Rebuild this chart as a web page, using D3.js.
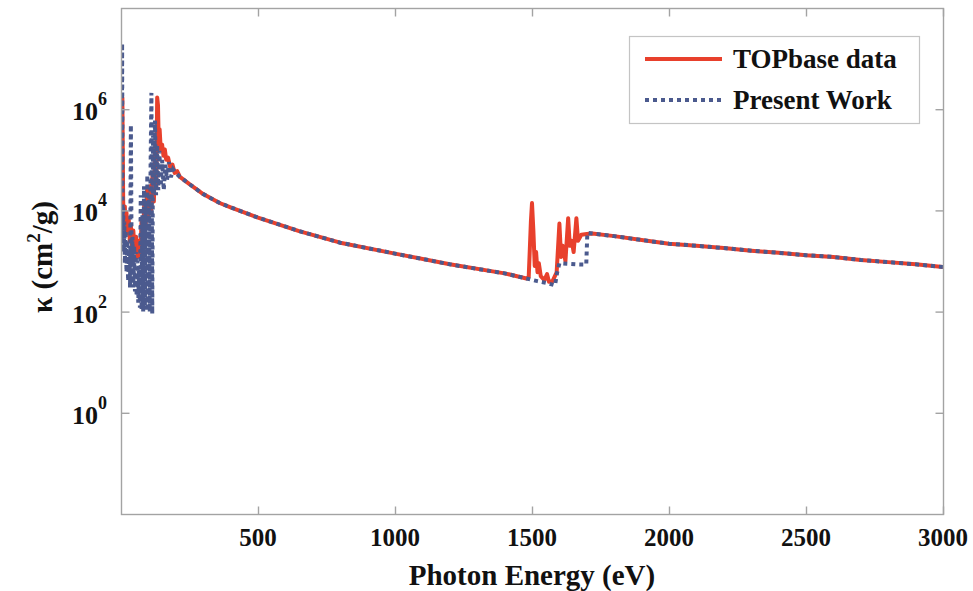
<!DOCTYPE html>
<html><head><meta charset="utf-8">
<script src="https://cdn.jsdelivr.net/npm/d3@7"></script>
<style>body{margin:0;background:#fff}</style>
</head><body><svg id="c" width="973" height="591"></svg>
<script>
// ---- data ----
const xTicks = [500, 1000, 1500, 2000, 2500, 3000];
const yTickExps = [0, 2, 4, 6];
const seriesNames = ["TOPbase data", "Present Work"];

// resonance region (low energy)
const resE_topbase = [3,5,8,11,14,17,20,24,28,32,36,40,45,50,55,60,65,70,75,80,85,90,95,100,105,110,115,120,125,129,132,135,138,141,145,150,155,160,165,172,180,188,196,205];
const resK_topbase = [1.5e4,1.7e6,1.5e4,5.0e3,1.2e4,4.0e3,9.0e3,3.5e3,7.0e3,2.5e3,5.0e3,2.0e3,4.0e3,1.5e3,3.0e3,1.2e3,2.5e3,1.2e3,6.0e3,2.5e3,1.5e4,5.0e3,2.5e4,8.0e3,3.0e4,1.0e4,5.0e4,1.5e4,2.0e5,3.0e4,1.7e6,1.2e6,2.0e5,4.0e5,1.6e5,2.0e5,1.2e5,1.6e5,1.0e5,1.1e5,7.0e4,8.0e4,5.5e4,6.0e4];

const resE_present = [3,4,6,8,10,12,14,17,20,23,26,30,33,36,39,42,45,48,51,54,57,60,63,66,69,72,75,78,81,84,87,90,93,96,99,102,105,108,111,114,117,120,124,128,132,136,140,145,150,156,162,168,175,182,190,200];
const resK_present = [3.0e4,2.0e7,3.0e3,1.2e4,1.5e3,6.0e3,9.0e2,4.0e3,6.0e2,2.5e3,4.0e2,2.0e3,3.0e2,4.9e5,8.0e2,3.0e3,3.0e2,2.0e3,2.5e2,1.5e3,2.0e2,1.0e3,1.5e2,8.0e2,1.2e2,2.0e4,1.1e2,8.0e3,1.0e2,3.0e4,1.1e2,1.5e4,1.0e2,5.0e4,1.2e2,2.0e4,1.0e2,8.0e4,2.1e6,9.0e1,3.0e5,2.0e4,6.0e5,2.0e4,2.0e5,2.5e4,1.5e5,3.0e4,1.0e5,2.5e4,8.0e4,4.0e4,9.0e4,4.5e4,6.5e4,5.5e4];

// smooth continuum (shared)
const contE = [215,250,300,360,400,500,650,800,1000,1200,1400,1480];
const contK = [4.6e4,3.3e4,2.1e4,1.4e4,1.15e4,7.2e3,3.9e3,2.3e3,1.4e3,8.6e2,5.7e2,4.5e2];

// K-edge region
const edgeE_topbase = [1488,1496,1500,1505,1510,1515,1520,1525,1532,1545,1555,1562,1575,1590,1600,1606,1612,1622,1632,1638,1645,1652,1662,1668,1680,1700];
const edgeK_topbase = [4.8e2,6.0e3,1.4e4,4.0e3,8.0e2,1.5e3,6.0e2,9.0e2,5.0e2,4.2e2,5.5e2,3.9e2,4.0e2,6.0e2,5.5e3,1.2e3,2.0e3,1.0e3,7.0e3,2.0e3,2.5e3,1.5e3,7.0e3,2.5e3,3.3e3,3.4e3];
const edgeE_present = [1520,1560,1584,1592,1600,1630,1660,1698,1702];
const edgeK_present = [4.0e2,3.6e2,3.3e2,6.0e2,9.0e2,8.8e2,8.6e2,8.5e2,3.6e3];

// post-edge (shared)
const postE = [1720,1800,1900,2000,2100,2200,2300,2400,2500,2600,2700,2800,2900,3000];
const postK = [3.5e3,3.1e3,2.6e3,2.2e3,2.0e3,1.8e3,1.6e3,1.45e3,1.3e3,1.2e3,1.05e3,9.5e2,8.6e2,7.6e2];

// ---- build series ----
function zip(E, K){ return E.map((e,i)=>({e, k:K[i]})); }
const topbase = [].concat(zip(resE_topbase,resK_topbase), zip(contE,contK), zip(edgeE_topbase,edgeK_topbase), zip(postE,postK));
const present = [].concat(zip(resE_present,resK_present), zip(contE,contK), zip(edgeE_present,edgeK_present), zip(postE,postK));

// ---- layout ----
const L = 121, R = 943, T = 8, B = 514;
const svg = d3.select("#c");
const x = d3.scaleLinear().domain([0, 3000]).range([L, R]);
const y = d3.scaleLog().domain([1e-2, 1e8]).range([B, T]);
const font = "'Liberation Serif','Times New Roman',serif";
const frameCol = "#a3a3a3";
const redCol = "#e8402c", blueCol = "#4b5a8e";

svg.append("clipPath").attr("id","clip").append("rect")
  .attr("x", L).attr("y", T).attr("width", R-L).attr("height", B-T);

const line = d3.line().x(d=>x(d.e)).y(d=>y(d.k));
const g = svg.append("g").attr("clip-path","url(#clip)");
g.append("path").datum(topbase).attr("d", line)
  .attr("fill","none").attr("stroke",redCol).attr("stroke-width",4)
  .attr("stroke-linejoin","round");
g.append("path").datum(present).attr("d", line)
  .attr("fill","none").attr("stroke",blueCol).attr("stroke-width",4)
  .attr("stroke-dasharray","4,4");

// frame
svg.append("rect").attr("x", L+0.5).attr("y", T+0.5).attr("width", R-L).attr("height", B-T)
  .attr("fill","none").attr("stroke", frameCol).attr("stroke-width",1.4);

// axes (ticks inward)
const xAxB = d3.axisBottom(x).tickValues(xTicks).tickSize(-8).tickFormat("");
const xAxT = d3.axisTop(x).tickValues(xTicks).tickSize(-8).tickFormat("");
const yVals = yTickExps.map(p=>Math.pow(10,p));
const yAxL = d3.axisLeft(y).tickValues(yVals).tickSize(-8).tickFormat("");
const yAxR = d3.axisRight(y).tickValues(yVals).tickSize(-8).tickFormat("");
function styleAx(sel){ sel.select(".domain").remove(); sel.selectAll("line").attr("stroke",frameCol).attr("stroke-width",1.4); }
svg.append("g").attr("transform",`translate(0,${B+0.5})`).call(xAxB).call(styleAx);
svg.append("g").attr("transform",`translate(0,${T+0.5})`).call(xAxT).call(styleAx);
svg.append("g").attr("transform",`translate(${L+0.5},0)`).call(yAxL).call(styleAx);
svg.append("g").attr("transform",`translate(${R+0.5},0)`).call(yAxR).call(styleAx);

// x tick labels
svg.append("g").selectAll("text").data(xTicks).join("text")
  .attr("x", d=>x(d)).attr("y", 546)
  .attr("text-anchor","middle").attr("font-family",font).attr("font-weight","bold")
  .attr("font-size",25).attr("fill","#111").text(d=>d);

// y tick labels
const yl = svg.append("g").selectAll("text").data(yTickExps).join("text")
  .attr("x", 107).attr("y", d=>y(Math.pow(10,d))+11)
  .attr("text-anchor","end").attr("font-family",font).attr("font-weight","bold")
  .attr("font-size",26).attr("fill","#111");
yl.append("tspan").text("10");
yl.append("tspan").attr("dy",-15).attr("font-size",18).text(d=>d);

// axis titles
svg.append("text").attr("x",(L+R)/2).attr("y",585).attr("text-anchor","middle")
  .attr("font-family",font).attr("font-weight","bold").attr("font-size",29).attr("fill","#111")
  .text("Photon Energy (eV)");
const yt = svg.append("text").attr("transform","translate(52,257) rotate(-90)")
  .attr("text-anchor","middle").attr("font-family",font).attr("font-weight","bold")
  .attr("font-size",29).attr("fill","#111");
yt.append("tspan").text("κ (cm");
yt.append("tspan").attr("dy",-12).attr("font-size",19).text("2");
yt.append("tspan").attr("dy",12).text("/g)");

// legend
const lg = svg.append("g");
lg.append("rect").attr("x",629.5).attr("y",36.5).attr("width",290).attr("height",87)
  .attr("fill","#fff").attr("stroke","#c4c4c4").attr("stroke-width",1.2);
const legY = [59, 100];
lg.append("line").attr("x1",645).attr("x2",722).attr("y1",legY[0]).attr("y2",legY[0])
  .attr("stroke",redCol).attr("stroke-width",4);
lg.append("line").attr("x1",645).attr("x2",722).attr("y1",legY[1]).attr("y2",legY[1])
  .attr("stroke",blueCol).attr("stroke-width",4).attr("stroke-dasharray","4,4");
lg.selectAll("text").data(seriesNames).join("text")
  .attr("x",733).attr("y",(d,i)=>legY[i]+9)
  .attr("font-family",font).attr("font-weight","bold").attr("font-size",27).attr("fill","#111")
  .text(d=>d);
</script></body></html>
